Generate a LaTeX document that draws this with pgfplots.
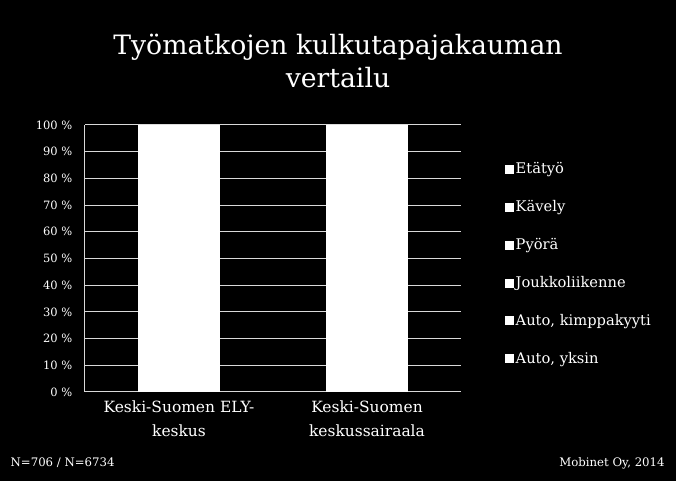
\documentclass[border=0pt]{standalone}
\usepackage{pgfplots}
\pgfplotsset{compat=1.18}
\usepackage{fontspec}
\setmainfont{DejaVu Serif}
\begin{document}
\begin{tikzpicture}
\fill[black] (0pt,0pt) rectangle (507pt,360.75pt);
\useasboundingbox (0pt,0pt) rectangle (507pt,360.75pt);
\node[white,font=\fontsize{20}{25}\selectfont,align=center] at (253.5pt,315pt) {Työmatkojen kulkutapajakauman\\vertailu};
\node[white,font=\fontsize{8.8}{10}\selectfont,anchor=west] at (4.5pt,13.5pt) {N=706 / N=6734};
\node[white,font=\fontsize{8.8}{10}\selectfont,anchor=east] at (502pt,13.5pt) {Mobinet Oy, 2014};
\begin{axis}[
  at={(63.75pt,66.75pt)}, anchor=south west,
  width=282pt, height=200.25pt, scale only axis,
  ybar stacked, bar width=0.43,
  xmin=-0.5, xmax=1.5, ymin=0, ymax=100,
  xtick=data, xticklabels={{Keski-Suomen ELY-\\keskus},{Keski-Suomen\\keskussairaala}},
  xticklabel style={align=center,white,font=\fontsize{11.6}{18}\selectfont,yshift=-3pt},
  ytick={0,10,...,100},
  yticklabel={\pgfmathprintnumber{\tick}~\%},
  yticklabel style={white,font=\fontsize{8.6}{10}\selectfont,xshift=-6pt},
  /pgf/number format/assume math mode=true,
  axis x line=bottom, axis y line=left,
  axis line style={draw=white!85!black,line width=0.75pt,-},
  major tick length=0pt,
  ymajorgrids, grid style={white!85!black,line width=0.75pt},
  reverse legend,
  legend style={draw=none,fill=none,at={(1.115,0.48)},anchor=west,
    text=white,font=\fontsize{11}{13}\selectfont,row sep=14.5pt,
    inner sep=0pt},
  legend cell align=left,
  legend image code/.code={\fill[white] (0pt,-3pt) rectangle (6pt,3pt);},
]
\addplot[fill=white,draw=white,line width=0.4pt] coordinates {(0,45) (1,55)};
\addlegendentry{Auto, yksin}
\addplot[fill=white,draw=white,line width=0.4pt] coordinates {(0,4) (1,5)};
\addlegendentry{Auto, kimppakyyti}
\addplot[fill=white,draw=white,line width=0.4pt] coordinates {(0,10) (1,12)};
\addlegendentry{Joukkoliikenne}
\addplot[fill=white,draw=white,line width=0.4pt] coordinates {(0,28) (1,18)};
\addlegendentry{Pyörä}
\addplot[fill=white,draw=white,line width=0.4pt] coordinates {(0,10) (1,9)};
\addlegendentry{Kävely}
\addplot[fill=white,draw=white,line width=0.4pt] coordinates {(0,3) (1,1)};
\addlegendentry{Etätyö}
\end{axis}
\end{tikzpicture}
\end{document}
